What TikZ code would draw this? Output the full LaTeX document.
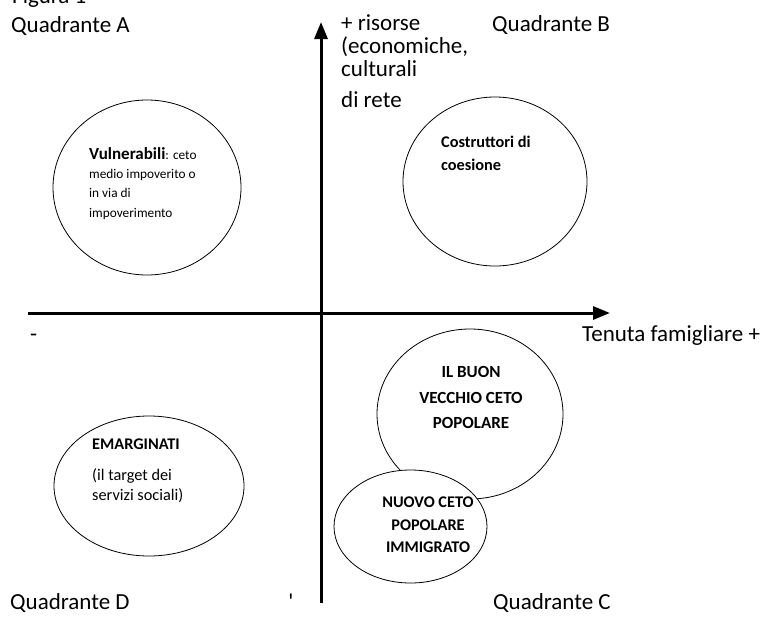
\documentclass[tikz,border=0pt]{standalone}
\usepackage{fontspec}
\setmainfont{Carlito}
\usepackage{tikz}
\usetikzlibrary{arrows.meta,shapes.geometric}
\tikzset{axe/.style={-{Triangle[length=17pt,width=13pt]},line width=3pt},
blob/.style={ellipse,draw,line width=0.8pt,fill=white,inner sep=0pt},
lab/.style={inner sep=0pt,font=\fontsize{23}{23}\selectfont},
txt/.style={inner sep=0pt,align=left}}

\begin{document}
\begin{tikzpicture}[x=1pt,y=-1pt]
\useasboundingbox (0,0) rectangle (770,616);
% assi
\coordinate (ybot) at (321,603);
\coordinate (ytop) at (321,22);
\coordinate (xsx) at (28,313);
\coordinate (xdx) at (610,313);
\draw[axe] (ybot)--(ytop);
\draw[axe] (xsx)--(xdx);
% etichette esterne
\node[lab,anchor=base west] (fig) at (12,3) {Figura 1};
\node[lab,anchor=base west] (qa) at (11,32) {Quadrante A};
\node[lab,anchor=base west] (qb) at (492,31) {Quadrante B};
\node[lab,anchor=base west] (qd) at (10,609) {Quadrante D};
\node[lab,anchor=base west] (qc) at (493,609) {Quadrante C};
\node[lab,anchor=base west,align=left,font=\fontsize{23}{23}\selectfont] (ris) at (341,107)
{+ risorse\\(economiche,\\culturali\\[8pt]di rete};
\node[lab,anchor=base west] (ten) at (582,341) {Tenuta famigliare +};
\node[lab,anchor=base west] (meno) at (30,341) {-};
\node[lab,anchor=base] (tick) at (291,609) {\textquotesingle};
% ellissi
\node[blob,minimum width=188pt,minimum height=175pt] (vul) at (147,187.5) {};
\node[blob,minimum width=184pt,minimum height=169pt] (cos) at (495,181.5) {};
\node[blob,minimum width=190pt,minimum height=140pt] (emar) at (149,486) {};
\node[blob,minimum width=186pt,minimum height=170pt] (buon) at (470,414) {};
\node[blob,minimum width=153pt,minimum height=113pt] (nuovo) at (410.5,526.5) {};
% testi (ancorati all'ultima riga)
\node[txt,anchor=base west,font=\fontsize{13.3}{19.3}\selectfont] (tvul) at (89,217)
{{\fontsize{17}{19.3}\selectfont\bfseries Vulnerabili}: ceto\\medio impoverito o\\in via di\\impoverimento};
\node[txt,anchor=base west,font=\fontsize{16.3}{23}\selectfont\bfseries] (tcos) at (441,170)
{Costruttori di\\coesione};
\node[txt,anchor=base west,font=\fontsize{16.3}{20}\selectfont] (temar) at (92,500)
{\textbf{EMARGINATI}\\[11pt](il target dei\\servizi sociali)};
\node[txt,align=center,anchor=base,font=\fontsize{17}{25.5}\selectfont\bfseries] (tbuon) at (471,428.5)
{IL BUON\\VECCHIO CETO\\POPOLARE};
\node[txt,align=center,anchor=base,font=\fontsize{16.3}{22.5}\selectfont\bfseries] (tnuovo) at (428,552.5)
{NUOVO CETO\\POPOLARE\\IMMIGRATO};
\end{tikzpicture}
\end{document}
